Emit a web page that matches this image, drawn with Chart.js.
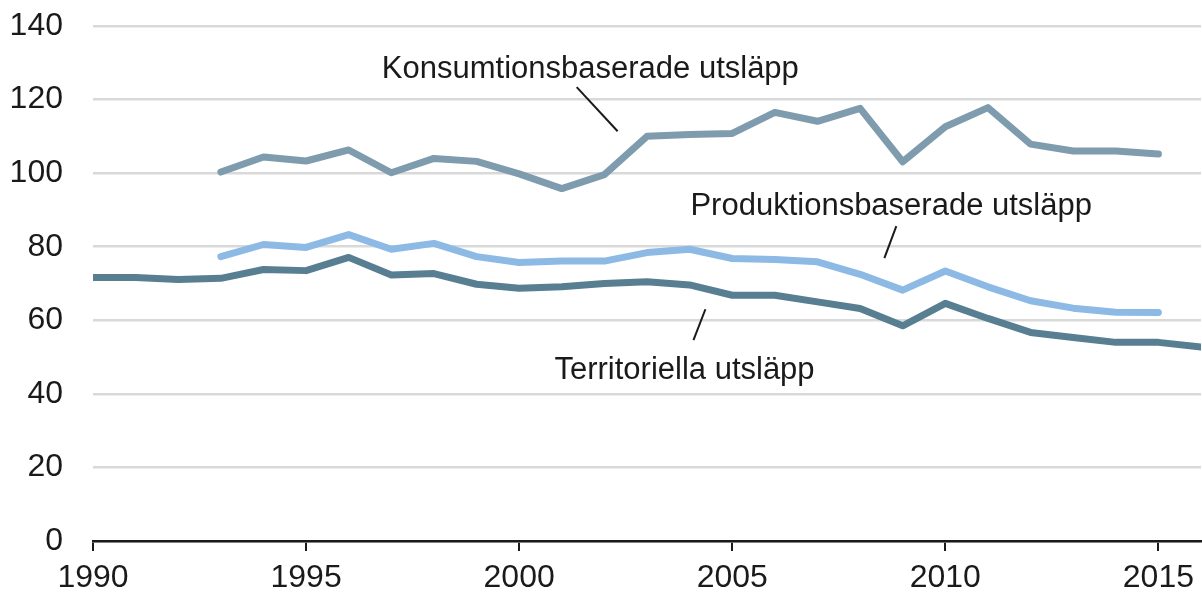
<!DOCTYPE html>
<html>
<head>
<meta charset="utf-8">
<script src="https://cdn.jsdelivr.net/npm/chart.js@4/dist/chart.umd.min.js"></script>
<style>
    body { margin: 0; background: #fff; }
    #wrap { width: 1202px; height: 597px; }
</style>
</head>
<body>
<div id="wrap"><canvas id="emissions-chart" width="1202" height="597"></canvas></div>
<script>
// years on the x axis
const years = [1990, 1991, 1992, 1993, 1994, 1995, 1996, 1997, 1998, 1999,
    2000, 2001, 2002, 2003, 2004, 2005, 2006, 2007, 2008, 2009,
    2010, 2011, 2012, 2013, 2014, 2015, 2016];

// series values
const konsumtion = [null, null, null, 100.3, 104.4, 103.3, 106.3, 100.1, 104.0, 103.2,
    99.8, 95.8, 99.6, 110.0, 110.5, 110.8, 116.5, 114.1, 117.6, 103.1,
    112.6, 117.8, 107.9, 106.0, 106.0, 105.2, null];
const produktion = [null, null, null, 77.3, 80.6, 79.8, 83.3, 79.3, 80.9, 77.3,
    75.7, 76.1, 76.1, 78.4, 79.3, 76.8, 76.5, 75.9, 72.5, 68.2,
    73.4, 69.1, 65.3, 63.3, 62.2, 62.1, null];
const territoriella = [71.6, 71.6, 71.1, 71.4, 73.8, 73.5, 77.1, 72.3, 72.7, 69.8,
    68.7, 69.1, 70.0, 70.5, 69.6, 66.8, 66.8, 65.0, 63.2, 58.5,
    64.6, 60.5, 56.7, 55.3, 54.0, 54.0, 52.7];

// axis range / ticks
const xMin = 1990, xMax = 2016, xStep = 5;
const yMin = 0, yMax = 140, yStep = 20;

// series labels placed on the plot, with their leader lines (data coords)
const seriesLabels = ['Konsumtionsbaserade utsläpp', 'Produktionsbaserade utsläpp', 'Territoriella utsläpp'];
const labelAnchors = [[2001.67, 125.8], [2008.73, 88.6], [2003.88, 44.0]];
const leaderLines = [
    [[2001.35, 123.4], [2002.31, 111.4]],
    [[2008.85, 85.6], [2008.57, 76.9]],
    [[2004.37, 63.0], [2004.09, 54.6]]
];

const FONT = '"Liberation Sans", Arial, sans-serif';
Chart.defaults.font.family = FONT;
Chart.defaults.color = '#1a1a1a';

const seriesLabelPlugin = {
    id: 'seriesLabels',
    afterDatasetsDraw(chart) {
        const { ctx, scales: { x, y } } = chart;
        ctx.save();
        ctx.strokeStyle = '#1a1a1a';
        ctx.lineWidth = 2;
        leaderLines.forEach(([a, b]) => {
            ctx.beginPath();
            ctx.moveTo(x.getPixelForValue(a[0]), y.getPixelForValue(a[1]));
            ctx.lineTo(x.getPixelForValue(b[0]), y.getPixelForValue(b[1]));
            ctx.stroke();
        });
        ctx.fillStyle = '#1a1a1a';
        ctx.font = '31px ' + FONT;
        ctx.textAlign = 'center';
        ctx.textBaseline = 'alphabetic';
        seriesLabels.forEach((txt, i) => {
            const [vx, vy] = labelAnchors[i];
            ctx.fillText(txt, x.getPixelForValue(vx), y.getPixelForValue(vy));
        });
        ctx.restore();
    }
};

const lineStyle = {
    borderWidth: 7,
    pointRadius: 0,
    tension: 0,
    fill: false,
    borderCapStyle: 'round',
    borderJoinStyle: 'round'
};

new Chart(document.getElementById('emissions-chart'), {
    type: 'line',
    data: {
        labels: years,
        datasets: [{
            label: seriesLabels[0],
            data: konsumtion,
            borderColor: '#7f9cae',
            ...lineStyle
        }, {
            label: seriesLabels[1],
            data: produktion,
            borderColor: '#8dbae5',
            ...lineStyle
        }, {
            label: seriesLabels[2],
            data: territoriella,
            borderColor: '#587e92',
            ...lineStyle
        }]
    },
    options: {
        responsive: false,
        animation: false,
        layout: { padding: { top: 26, right: 0, bottom: 0, left: 0 } },
        plugins: {
            legend: { display: false },
            tooltip: { enabled: false }
        },
        scales: {
            x: {
                type: 'linear',
                min: xMin,
                max: xMax,
                border: { color: '#1a1a1a', width: 2.5 },
                grid: {
                    drawOnChartArea: false,
                    drawTicks: true,
                    tickLength: 10,
                    color: '#1a1a1a',
                    lineWidth: 2
                },
                ticks: {
                    stepSize: xStep,
                    includeBounds: false,
                    autoSkip: false,
                    maxRotation: 0,
                    padding: 8,
                    font: { size: 32 },
                    color: '#1a1a1a',
                    callback: v => String(v)
                },
                afterFit(scale) {
                    scale.height = 56;
                }
            },
            y: {
                min: yMin,
                max: yMax,
                border: { display: false },
                grid: {
                    color: '#d9d9d9',
                    lineWidth: 2.5,
                    drawTicks: false
                },
                ticks: {
                    stepSize: yStep,
                    padding: 30,
                    font: { size: 32 },
                    color: '#1a1a1a'
                },
                afterFit(scale) {
                    scale.width = 93;
                    scale.paddingTop = 0;
                    scale.paddingBottom = 0;
                }
            }
        }
    },
    plugins: [seriesLabelPlugin]
});
</script>
</body>
</html>
